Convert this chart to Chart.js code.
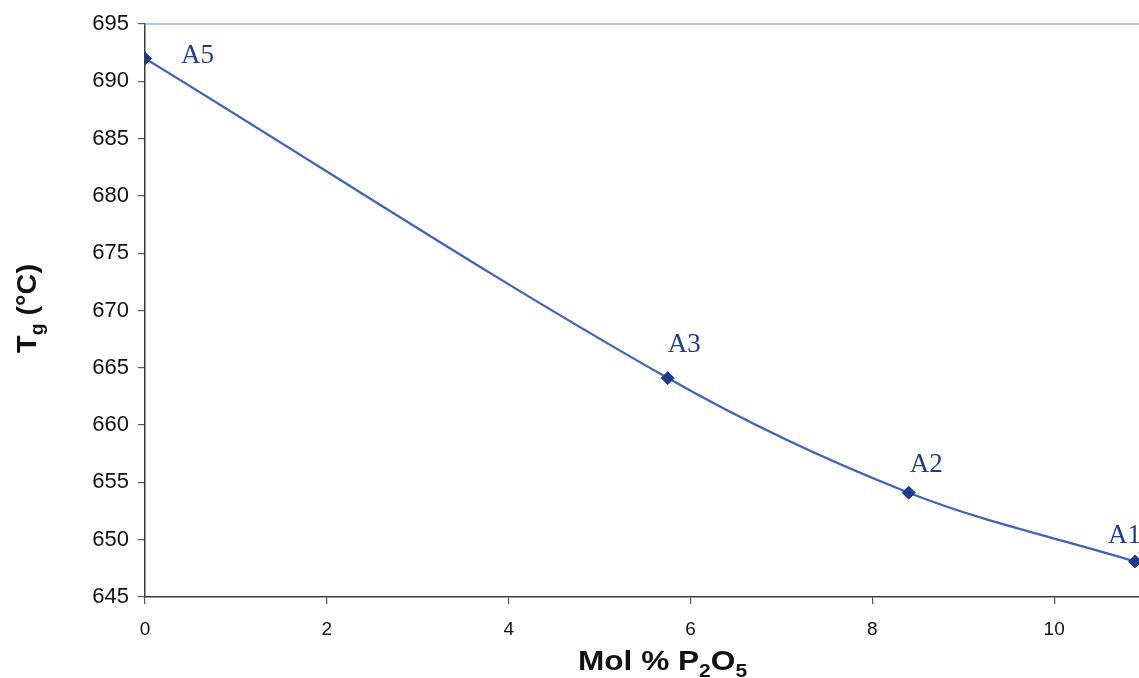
<!DOCTYPE html>
<html>
<head>
<meta charset="utf-8">
<script src="https://cdn.jsdelivr.net/npm/chart.js@4"></script>
<style>
  html, body { margin: 0; padding: 0; background: #ffffff; overflow: hidden; }
  #wrap { width: 1270px; height: 678px; }
</style>
</head>
<body>
<div id="wrap"><canvas id="tg-chart" width="1270" height="678"></canvas></div>
<script>
// glass compositions: mol % P2O5 vs glass transition temperature
var pointNames = ['A5', 'A3', 'A2', 'A1'];
var molP2O5 = [0, 5.75, 8.4, 10.89];
var tgValues = [692.0, 664.1, 654.1, 648.1];
var xTicks = [0, 2, 4, 6, 8, 10, 12];
var yTicks = [645, 650, 655, 660, 665, 670, 675, 680, 685, 690, 695];

// where each data label sits relative to its point (left edge, baseline)
var labelShift = [[36, 5], [0, -26], [1, -21], [-27, -18]];

var points = [];
for (let i = 0; i < molP2O5.length; i++) {
  points.push({ x: molP2O5[i], y: tgValues[i] });
}

// draw a run of text pieces, some of them as subscripts
function drawRich(ctx, pieces, size) {
  var x = 0;
  pieces.forEach(function (p) {
    var fs = p.sub ? Math.round(size * 0.68) : size;
    ctx.font = 'bold ' + fs + 'px "Liberation Sans", Arial, sans-serif';
    ctx.fillText(p.t, x, p.sub ? size * 0.25 : 0);
    x += ctx.measureText(p.t).width;
  });
}

var extras = {
  id: 'extras',
  afterDraw: function (chart) {
    var ctx = chart.ctx;
    var area = chart.chartArea;
    ctx.save();
    // top border of the plot area
    ctx.strokeStyle = '#9db0cf';
    ctx.lineWidth = 1.5;
    ctx.beginPath();
    ctx.moveTo(area.left, area.top);
    ctx.lineTo(area.right, area.top);
    ctx.stroke();

    // point labels
    var meta = chart.getDatasetMeta(0);
    ctx.fillStyle = '#213d8a';
    ctx.font = '27px "Liberation Serif", "Times New Roman", serif';
    ctx.textBaseline = 'alphabetic';
    ctx.textAlign = 'left';
    meta.data.forEach(function (el, i) {
      ctx.fillText(pointNames[i], el.x + labelShift[i][0], el.y + labelShift[i][1]);
    });

    // axis titles (the scanned lettering is a little wide)
    ctx.fillStyle = '#111111';
    ctx.save();
    ctx.translate(578, 670);
    ctx.scale(1.17, 1);
    drawRich(ctx, [{ t: 'Mol % P' }, { t: '2', sub: true }, { t: 'O' }, { t: '5', sub: true }], 27);
    ctx.restore();

    ctx.save();
    ctx.translate(36, 353);
    ctx.rotate(-Math.PI / 2);
    ctx.scale(1.07, 1);
    drawRich(ctx, [{ t: 'T' }, { t: 'g', sub: true }, { t: ' (°C)' }], 27);
    ctx.restore();
    ctx.restore();
  }
};

new Chart(document.getElementById('tg-chart'), {
  type: 'line',
  data: {
    datasets: [{
      data: points,
      borderColor: '#4264b2',
      borderWidth: 2.3,
      tension: 0.35,
      fill: false,
      pointStyle: 'rectRot',
      pointRadius: 6.5,
      pointBackgroundColor: '#1d3d8c',
      pointBorderColor: '#1d3d8c',
      pointBorderWidth: 1
    }]
  },
  options: {
    responsive: false,
    animation: false,
    layout: { padding: { left: 0, top: 24, right: 34, bottom: 0 } },
    plugins: {
      legend: { display: false },
      title: { display: false },
      tooltip: { enabled: false }
    },
    scales: {
      x: {
        type: 'linear',
        min: 0,
        max: 12,
        afterBuildTicks: function (s) { s.ticks = xTicks.map(function (v) { return { value: v }; }); },
        afterFit: function (s) { s.height = 81; },
        grid: { drawOnChartArea: false, drawTicks: true, tickLength: 7, color: '#555555', lineWidth: 1.2 },
        border: { display: true, color: '#3c3c3c', width: 1.5 },
        ticks: {
          color: '#111111',
          padding: 14,
          maxRotation: 0,
          font: { family: '"Liberation Sans", Arial, sans-serif', size: 19 }
        }
      },
      y: {
        min: 645,
        max: 695,
        afterBuildTicks: function (s) { s.ticks = yTicks.map(function (v) { return { value: v }; }); },
        afterFit: function (s) { s.width = 145; },
        grid: { drawOnChartArea: false, drawTicks: true, tickLength: 7, color: '#555555', lineWidth: 1.2 },
        border: { display: true, color: '#3c3c3c', width: 1.5 },
        ticks: {
          color: '#111111',
          padding: 9,
          font: { family: '"Liberation Sans", Arial, sans-serif', size: 22 }
        }
      }
    }
  },
  plugins: [extras]
});
</script>
</body>
</html>
